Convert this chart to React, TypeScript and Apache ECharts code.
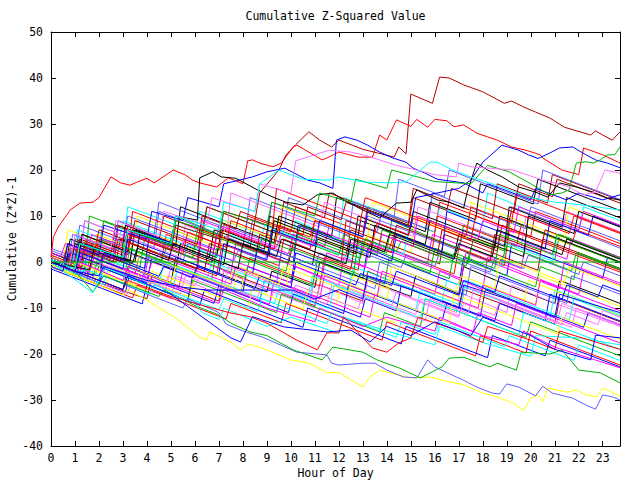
import React, { useEffect, useRef } from "react";
import * as echarts from "echarts";

const TITLE = "Cumulative Z-Squared Value";
const X_NAME = "Hour of Day";
const Y_NAME = "Cumulative (Z*Z)-1";
const X_MIN = 0;
const X_MAX = 23.72;
const Y_MIN = -40;
const Y_MAX = 50;

const PALETTE = ["#ff0000", "#00b000", "#0000ff", "#ff00ff", "#00ffff", "#b00000", "#ffff00", "#000000", "#6060ff", "#ff70ff"];

// background band of walks, flat [hour, value, hour, value, ...]
const bandWalks: number[][] = [
  [0,0, 1.5,-3, 1.7,4, 3,1.5, 3.2,8, 5,4.5, 5.2,9, 7,5.5, 8,3.5, 8.2,10, 10,6.5, 10.2,12, 12,8.5, 13,6.5, 13.2,12, 15,8.5, 16,6.5, 16.2,13, 18,9.5, 20,5.5, 20.2,11, 22,7.5, 23.72,4],
  [0,1, 1,-1, 1.2,5, 2,3.5, 2.2,9, 4,5.5, 5,3.5, 5.2,10, 7,6, 9,2, 9.2,7, 11,3.5, 12,1.5, 12.2,6, 14,2, 14.2,9, 16,5, 17,3, 17.2,8, 19,4.5, 21,0.5, 21.2,6, 23.72,1],
  [0,-1, 2,-5, 2.2,-1, 4,-4.5, 4.2,1, 6,-2.5, 8,-6.5, 8.2,-1, 10,-4.5, 10.2,2, 12,-1.5, 13,-3.5, 13.2,3, 15,-1, 17,-5, 17.2,1, 19,-3, 19.2,4, 21,0.5, 23,-3.5, 23.2,1, 23.72,0],
  [0,0.5, 1,-1.5, 1.2,2, 3,-1.5, 4,-3.5, 4.2,0, 6,-3.5, 6.2,3, 8,-0.5, 10,-4.5, 10.2,-1, 12,-5, 12.2,1, 14,-3, 16,-7, 16.2,-2, 18,-6, 18.2,1, 20,-3, 22,-7, 22.2,-2, 23.72,-5],
  [0,2, 1,0, 1.2,6, 3,2.5, 3.2,12, 5,8.5, 6,6.5, 6.2,11, 8,7.5, 10,3.5, 10.2,9, 12,5, 12.2,14, 14,10.5, 16,6.5, 16.2,12, 18,8, 18.2,15, 20,11, 22,7, 22.2,12, 23.72,9],
  [0,-0.5, 2,-4.5, 4,-8, 4.2,-3, 6,-6.5, 7,-8.5, 7.2,-2, 9,-5.5, 11,-9.5, 11.2,-5, 13,-8.5, 13.2,-2, 15,-6, 17,-10, 17.2,-6, 19,-9.5, 21,-13.5, 21.2,-8, 23.72,-13],
  [0,1.5, 0.5,0, 0.7,7, 2,4.5, 4,0.5, 4.2,6, 6,2.5, 6.2,7, 8,3.5, 9,1.5, 9.2,9, 11,5.5, 13,1.5, 13.2,6, 15,2, 15.2,10, 17,6.5, 19,2.5, 19.2,9, 21,5, 23.72,0],
  [0,0, 1,-2, 3,-6, 3.2,-1, 5,-4.5, 5.2,1, 7,-2.5, 9,-6.5, 9.2,-2, 11,-5.5, 11.2,0, 13,-3.5, 15,-7.5, 15.2,-3, 17,-7, 17.2,-1, 19,-5, 21,-9, 21.2,-4, 23.72,-9],
  [0,3, 1,1, 1.2,8, 3,4.5, 3.2,10, 5,6.5, 7,2.5, 7.2,8, 9,4.5, 9.2,13, 11,9.5, 13,5.5, 13.2,10, 15,6.5, 17,2.5, 17.2,7, 19,3.5, 19.2,12, 21,8.5, 23,4.5, 23.72,3],
  [0,-1, 1,-3, 1.2,0, 3,-4, 5,-8, 5.2,-3, 7,-7, 7.2,-2, 9,-6, 11,-10, 11.2,-5, 13,-9, 13.2,-4, 15,-8, 17,-12, 17.2,-7, 19,-11, 19.2,-5, 21,-9, 23.72,-14],
  [0,0, 0.6,-1.2, 0.8,3, 2.4,-0.2, 3.5,-2.4, 3.7,2, 4.6,0.2, 4.8,6, 6.9,1.8, 7.1,4, 9.5,-0.8, 9.7,5, 10.8,2.8, 11,9, 12.6,5.8, 14.1,2.8, 14.3,6, 15.9,2.8, 16.1,10, 18.3,5.6, 19.4,3.4, 19.6,8, 21.7,3.8, 21.9,7, 23.72,3.4],
  [0,1, 1.4,-1.8, 1.6,10, 3.3,6.6, 4.9,3.4, 5.1,7, 6.3,4.6, 6.5,12, 8.4,8.2, 10.2,4.6, 10.4,8, 12.5,3.8, 13.6,1.6, 13.8,7, 15.2,4.2, 17.4,-0.2, 17.6,5, 18.9,2.4, 19.1,9, 21.3,4.6, 23.72,-0.2],
  [0,-0.5, 1.8,-4.1, 3.1,-6.7, 3.3,-2, 5.6,-6.6, 6.8,-9, 7,-5, 8.7,-8.4, 8.9,-4, 10.6,-7.4, 12.9,-12, 13.1,-8, 14.4,-10.6, 14.6,-5, 16.3,-8.4, 18.5,-12.8, 18.7,-9, 20.6,-12.8, 20.8,-7, 22.4,-10.2, 23.72,-12.8],
  [0,2, 0.9,0.2, 1.1,4, 2.6,1, 2.8,7, 4.7,3.2, 6.1,0.4, 6.3,9, 7.8,6, 9.9,1.8, 10.1,6, 11.4,3.4, 11.6,8, 13.8,3.6, 15.7,-0.2, 15.9,6, 17.2,3.4, 19.6,-1.4, 19.8,4, 21.5,0.6, 21.7,5, 23.72,1],
  [0,0, 1.3,-2.6, 1.5,2, 2.9,-0.8, 3.1,3, 5.4,-1.6, 6.5,-3.8, 6.7,0, 8.8,-4.2, 10.7,-8, 10.9,-3, 12.4,-6, 12.6,-1, 14.9,-5.6, 16.3,-8.4, 16.5,-4, 18.6,-8.2, 20.8,-12.6, 21,-6, 22.5,-9, 23.72,-11.4],
  [0,1, 0.8,-0.6, 1,5, 2.5,2, 2.7,8, 4.4,4.6, 6.7,0, 6.9,6, 8.3,3.2, 8.5,9, 10.6,4.8, 12.3,1.4, 12.5,7, 14.6,2.8, 16.2,-0.4, 16.4,6, 18.7,1.4, 20.3,-1.8, 20.5,5, 22.6,0.8, 23.72,-1.4],
  [0,-1, 2.3,-5.6, 2.5,-1, 4.1,-4.2, 5.8,-7.6, 6,-3, 7.6,-6.2, 7.8,-1, 9.7,-4.8, 11.9,-9.2, 12.1,-5, 13.6,-8, 13.8,-2, 15.4,-5.2, 17.8,-10, 18,-6, 19.7,-9.4, 19.9,-4, 21.8,-7.8, 23.72,-11.6],
  [0,0.5, 1.1,-1.7, 1.3,6, 3.4,1.8, 5.2,-1.8, 5.4,4, 6.9,1, 7.1,7, 8.8,3.6, 10.9,-0.6, 11.1,5, 12.7,1.8, 12.9,9, 14.6,5.6, 16.8,1.2, 17,6, 18.5,3, 18.7,10, 20.9,5.6, 23.72,0],
  [0,2.5, 1.2,0.1, 1.4,9, 2.8,6.2, 4.3,3.2, 4.5,11, 6.4,7.2, 8.2,3.6, 8.4,9, 9.7,6.4, 9.9,14, 11.8,10.2, 13.6,6.6, 13.8,11, 15.7,7.2, 15.9,15, 17.6,11.6, 19.8,7.2, 20,12, 22.1,7.8, 23.72,4.6],
  [0,-0.5, 1.5,-3.5, 3.2,-6.9, 3.4,-3, 4.8,-5.8, 5,-1, 7.3,-5.6, 9.1,-9.2, 9.3,-6, 10.8,-9, 11,-3, 12.9,-6.8, 15.2,-11.4, 15.4,-8, 16.9,-11, 17.1,-5, 19.3,-9.4, 21.1,-13, 21.3,-9, 23.72,-13.8],
  [0,0, 1.1,-2.2, 1.3,1, 3.2,-2.8, 3.4,4, 5.3,0.2, 6.9,-3, 7.1,3, 9.4,-1.6, 11.2,-5.2, 11.4,1, 12.8,-1.8, 13,5, 15.3,0.4, 16.8,-2.6, 17,3, 18.9,-0.8, 19.1,7, 21.4,2.4, 23.72,-2.2],
  [0,1, 1.8,-2.6, 2,2, 3.7,-1.4, 3.9,5, 5.6,1.6, 8.1,-3.4, 8.3,1, 9.8,-2, 10,3, 12.3,-1.6, 13.9,-4.8, 14.1,1, 15.8,-2.4, 16,3, 18.3,-1.6, 20.2,-5.4, 20.4,-1, 21.8,-3.8, 22,2, 23.72,-1.4],
  [0,-1.5, 2.1,-5.7, 3.8,-9.1, 4,-5, 5.7,-8.4, 5.9,-3, 8.2,-7.6, 9.9,-11, 10.1,-7, 12.2,-11.2, 12.4,-5, 14.1,-8.4, 16.3,-12.8, 16.5,-9, 17.9,-11.8, 18.1,-6, 20.4,-10.6, 22.2,-14.2, 22.4,-11, 23.72,-13.6],
  [0,0, 1.4,-2.8, 1.6,3, 3.1,0, 3.3,6, 5.4,1.8, 7.5,-2.4, 7.7,4, 9,1.4, 11.3,-3.2, 11.5,2, 13.1,-1.2, 13.3,4, 15.4,-0.2, 17.1,-3.6, 17.3,2, 19.4,-2.2, 21.2,-5.8, 21.4,0, 23.72,-4.6],
  [0,1.5, 0.9,-0.3, 1.1,7, 2.8,3.6, 3,9, 4.9,5.2, 7.2,0.6, 7.4,6, 8.7,3.4, 8.9,8, 11.1,3.6, 12.8,0.2, 13,5, 14.7,1.6, 14.9,7, 17.2,2.4, 18.8,-0.8, 19,4, 20.9,0.2, 21.1,6, 23.72,0.8],
  [0,0.5, 1,-1.5, 1.2,5, 2.6,2.2, 2.8,8, 4.5,4.6, 4.7,10, 6.3,6.8, 6.5,12, 8.2,8.6, 9.5,6, 9.7,13, 11.4,9.6, 11.6,15, 13.3,11.6, 14.9,8.4, 15.1,16, 16.8,12.6, 18.4,9.4, 18.6,17, 20.7,12.8, 20.9,19, 23.72,13.4],
  [0,1, 1.7,-2.4, 1.9,6, 3.4,3, 3.6,10, 5.8,5.6, 7.1,3, 7.3,9, 9.4,4.8, 9.6,12, 11.9,7.4, 13.2,4.8, 13.4,13, 15.5,8.8, 17.3,5.2, 17.5,13, 19.2,9.6, 21.4,5.2, 21.6,12, 23.72,7.8],
  [0,-0.5, 1.2,-2.9, 1.4,4, 3.3,0.2, 3.5,7, 5.2,3.6, 5.4,12, 7.6,7.6, 9.3,4.2, 9.5,10, 11.7,5.6, 11.9,14, 13.4,11, 15.6,6.6, 15.8,13, 17.7,9.2, 17.9,17, 20.1,12.6, 20.3,18, 22.4,13.8, 23.72,11.2],
  [0,0, 0.7,-1.4, 0.9,6, 2.6,2.6, 2.8,9, 4.3,6, 4.5,13, 6.6,8.8, 8.1,5.8, 8.3,14, 10.2,10.2, 12.4,5.8, 12.6,13, 14.3,9.6, 14.5,18, 16.4,14.2, 16.6,20, 18.9,15.4, 20.3,12.6, 20.5,20, 22.6,15.8, 23.72,13.6],
  [0,2, 1.2,-0.4, 1.4,9, 3.1,5.6, 5.4,1, 5.6,8, 7.3,4.6, 7.5,15, 9.1,11.8, 11.2,7.6, 11.4,13, 13.7,8.4, 15.1,5.6, 15.3,12, 17.4,7.8, 19.6,3.4, 19.8,10, 21.3,7, 21.5,11, 23.72,6.6],
  [0,-1, 1.6,-4.2, 3.4,-7.8, 3.6,-5, 5.5,-8.8, 7.3,-12.4, 7.5,-9, 9.6,-13.2, 9.8,-9, 11.7,-12.8, 13.8,-17, 14,-13, 15.9,-16.8, 17.7,-20.4, 17.9,-16, 19.8,-19.8, 20,-15, 22.1,-19.2, 23.72,-22.4],
  [0,0, 1.3,-2.6, 1.5,0, 3.6,-4.2, 5.7,-8.4, 5.9,-4, 7.8,-7.8, 9.4,-11, 9.6,-7, 11.5,-10.8, 13.7,-15.2, 13.9,-11, 15.4,-14, 15.6,-8, 17.9,-12.6, 19.8,-16.4, 20,-13, 22.2,-17.4, 23.72,-20.4],
  [0,0.5, 1.8,-3.1, 2,-1, 4.1,-5.2, 6.2,-9.4, 6.4,-6, 8.3,-9.8, 10.5,-14.2, 10.7,-10, 12.4,-13.4, 14.6,-17.8, 14.8,-14, 16.5,-17.4, 18.2,-20.8, 18.4,-16, 20.6,-20.4, 20.8,-17, 23.72,-22.8],
  [0,0, 1.1,-2.2, 1.3,2, 3.4,-2.2, 5.3,-6, 5.5,-2, 7.7,-6.4, 9.1,-9.2, 9.3,-4, 11.6,-8.6, 13.3,-12, 13.5,-7, 15.4,-10.8, 17.6,-15.2, 17.8,-11, 19.2,-13.8, 19.4,-9, 21.7,-13.6, 23.72,-17.6],
  [0,-0.5, 2.2,-4.9, 2.4,-1, 4.5,-5.2, 4.7,0, 6.8,-4.2, 8.7,-8, 8.9,-4, 10.8,-7.8, 11,-2, 13.1,-6.2, 15.2,-10.4, 15.4,-6, 17.1,-9.4, 17.3,-4, 19.5,-8.4, 21.6,-12.6, 21.8,-8, 23.72,-11.8],
  [0,1, 1,-1, 1.2,3, 2.7,0, 2.9,5, 4.8,1.2, 6.4,-2, 6.6,4, 8.5,0.2, 8.7,6, 10.3,2.8, 12.5,-1.6, 12.7,5, 14.2,2, 14.4,8, 16.6,3.6, 18.3,0.2, 18.5,6, 20.4,2.2, 20.6,7, 23.72,0.8],
  [0,0, 1.9,-3.8, 2.1,1, 3.5,-1.8, 3.7,2, 5.9,-2.4, 7.4,-5.4, 7.6,-1, 9.8,-5.4, 10,0, 12.2,-4.4, 14,-8, 14.2,-3, 16.1,-6.8, 17.9,-10.4, 18.1,-5, 20.2,-9.2, 20.4,-3, 22.5,-7.2, 23.72,-9.6],
  [0,0.5, 0.8,-1.1, 1,4, 2.9,0.2, 3.1,8, 5.2,3.8, 6.6,1, 6.8,7, 8.9,2.8, 9.1,10, 10.7,6.8, 12.6,3, 12.8,10, 14.9,5.8, 15.1,11, 17.5,6.2, 18.9,3.4, 19.1,12, 21.3,7.6, 21.5,14, 23.72,9.6],
  [0,-1, 1.5,-4, 1.7,0, 3.8,-4.2, 4,1, 5.6,-2.2, 7.9,-6.8, 8.1,-2, 9.4,-4.6, 9.6,2, 11.8,-2.4, 13.5,-5.8, 13.7,0, 15.8,-4.2, 17.3,-7.2, 17.5,-1, 19.7,-5.4, 21.5,-9, 21.7,-3, 23.72,-7],
  [0,0, 1.2,-2.4, 1.4,1, 3.3,-2.8, 5.4,-7, 5.6,-3, 7.2,-6.2, 7.4,-1, 9.6,-5.4, 11.5,-9.2, 11.7,-5, 13.8,-9.2, 15.6,-12.8, 15.8,-8, 17.4,-11.2, 17.6,-6, 19.9,-10.6, 21.7,-14.2, 21.9,-10, 23.72,-13.6],
  [0,1.5, 1.3,-1.1, 1.5,5, 3.2,1.6, 3.4,11, 5.1,7.6, 7.3,3.2, 7.5,9, 9.2,5.6, 9.4,16, 11.3,12.2, 12.9,9, 13.1,14, 15.2,9.8, 17.3,5.6, 17.5,12, 19.2,8.6, 19.4,15, 21.6,10.6, 23.72,6.4],
  [0,-0.5, 1,-2.5, 1.2,2, 3.1,-1.8, 3.3,3, 5.4,-1.2, 6.7,-3.8, 6.9,3, 8.8,-0.8, 10.9,-5, 11.1,0, 12.6,-3, 12.8,4, 14.9,-0.2, 16.6,-3.6, 16.8,2, 18.5,-1.4, 18.7,6, 20.9,1.6, 21.1,6, 23.72,0.8],
  [0,0, 2,-4, 2.2,2, 3.9,-1.4, 4.1,6, 6.3,1.6, 8.4,-2.6, 8.6,3, 10.1,0, 10.3,8, 12.5,3.6, 14.2,0.2, 14.4,6, 16.3,2.2, 16.5,11, 18.7,6.6, 20.6,2.8, 20.8,9, 22.4,5.8, 22.6,10, 23.72,7.8],
  [0,1, 1.6,-2.2, 1.8,1, 3.9,-3.2, 4.1,2, 6.2,-2.2, 7.5,-4.8, 7.7,-1, 9.9,-5.4, 11.2,-8, 11.4,-3, 13.6,-7.4, 13.8,-2, 15.9,-6.2, 17.8,-10, 18,-5, 20.2,-9.4, 20.4,-4, 22.7,-8.6, 23.72,-10.6],
  [0,0.5, 1.4,-2.3, 1.6,2, 3.7,-2.2, 5.1,-5, 5.3,-1, 7.4,-5.2, 9.3,-9, 9.5,-6, 11.6,-10.2, 11.8,-5, 13.3,-8, 15.4,-12.2, 15.6,-8, 17.2,-11.2, 19.5,-15.8, 19.7,-11, 21.8,-15.2, 23.72,-19],
  [0,0, 0.9,-1.8, 1.1,3, 2.6,0, 2.8,5, 4.5,1.6, 6.1,-1.6, 6.3,7, 8.4,2.8, 9.9,-0.2, 10.1,4, 12.1,0, 12.3,9, 14.4,4.8, 16.1,1.4, 16.3,7, 18.6,2.4, 18.8,8, 20.8,4, 23.72,-1.8],
  [0,-1, 1.7,-4.4, 1.9,-2, 4,-6.2, 4.2,-2, 6.1,-5.8, 8.2,-10, 8.4,-6, 10.5,-10.2, 10.7,-6, 12.6,-9.8, 14.3,-13.2, 14.5,-9, 16.6,-13.2, 16.8,-7, 18.9,-11.2, 21.1,-15.6, 21.3,-12, 23.72,-16.8],
  [0,2, 1.1,-0.2, 1.3,6, 3.2,2.2, 3.4,7, 5.5,2.8, 7.2,-0.6, 7.4,5, 9.1,1.6, 9.3,9, 11.4,4.8, 13.3,1, 13.5,8, 15.6,3.8, 15.8,9, 17.9,4.8, 19.7,1.2, 19.9,10, 21.8,6.2, 22,11, 23.72,7.6],
  [0,0, 0.5,-1, 0.7,1.5, 1.4,0, 1.6,2.5, 2.5,0.7, 2.7,3, 3.6,1.2, 4.3,-0.2, 4.5,2, 5.5,0, 5.7,4, 6.8,1.8, 7.6,0.2, 7.8,2.5, 8.9,0.3, 9.1,3, 10.2,0.8, 11,-0.8, 11.2,2, 12.3,-0.2, 12.5,3, 13.7,0.6, 14.6,-1.2, 14.8,1.5, 16,-0.9, 16.2,2, 17.4,-0.4, 18.3,-2.2, 18.5,1, 19.7,-1.4, 19.9,1.5, 21.1,-0.9, 22,-2.7, 22.2,0, 23.72,-3],
  [0,-0.5, 0.9,-2.3, 1.1,0, 2.2,-2.2, 2.4,-0.5, 3.6,-2.9, 4.7,-5.1, 4.9,-3, 6,-5.2, 6.2,-3, 7.5,-5.6, 8.6,-7.8, 8.8,-5, 10,-7.4, 10.2,-5, 11.6,-7.8, 12.8,-10.2, 13,-7, 14.2,-9.4, 14.4,-6.5, 15.7,-9.1, 17,-11.7, 17.2,-9, 18.5,-11.6, 18.7,-8.5, 20,-11.1, 21.3,-13.7, 21.5,-11, 22.8,-13.6, 23,-10.5, 23.72,-12],
  [0,1, 0.7,-0.4, 0.9,3, 1.8,1.2, 2,5, 3.2,2.6, 3.4,6, 4.6,3.6, 5.5,1.8, 5.7,6.5, 7,3.9, 7.2,7, 8.4,4.6, 9.3,2.8, 9.5,8, 10.8,5.4, 11,9, 12.3,6.4, 13.4,4.2, 13.6,8.5, 14.9,5.9, 15.1,9.5, 16.4,6.9, 17.5,4.7, 17.7,10, 19,7.4, 19.2,11, 20.5,8.4, 21.6,6.2, 21.8,10, 23,7.6, 23.72,6.2],
  [0,0, 1,-2, 1.2,4, 2,2.4, 2.2,5, 3.3,2.8, 4.6,0.2, 4.8,3, 5.9,0.8, 6.1,7, 7.5,4.2, 8.6,2, 8.8,5, 10.1,2.4, 10.3,6, 11.7,3.2, 12.9,0.8, 13.1,5, 14.4,2.4, 14.6,4.5, 16,1.7, 17.3,-0.9, 17.5,3, 18.8,0.4, 19,3.5, 20.4,0.7, 21.7,-1.9, 21.9,2, 23.72,-1.6],
  [0,0.5, 0.6,-0.7, 0.8,2, 2,-0.4, 2.2,1.5, 3.4,-0.9, 4.5,-3.1, 4.7,-1, 5.9,-3.4, 6.1,-1, 7.3,-3.4, 8.5,-5.8, 8.7,-3, 10,-5.6, 10.2,0, 11.5,-2.6, 12.7,-5, 12.9,-2.5, 14.2,-5.1, 14.4,-2, 15.7,-4.6, 17,-7.2, 17.2,-4, 18.5,-6.6, 18.7,-3, 20,-5.6, 21.3,-8.2, 21.5,-5, 22.8,-7.6, 23,-5, 23.72,-6.4],
  [0,2, 0.4,1.2, 0.6,4, 1.5,2.2, 1.7,6, 2.9,3.6, 3.1,7, 4.3,4.6, 5.4,2.4, 5.6,5, 6.8,2.6, 7,8, 8.3,5.4, 9.4,3.2, 9.6,6, 10.9,3.4, 11.1,7, 12.4,4.4, 13.6,2, 13.8,6, 15.1,3.4, 15.3,10, 16.6,7.4, 17.8,5, 18,9, 19.3,6.4, 19.5,12, 20.8,9.4, 22,7, 22.2,11, 23.72,8],
  [0,-0.5, 1.2,-2.9, 1.4,-1.5, 2.8,-4.3, 4.1,-6.9, 4.3,-5, 5.7,-7.8, 7,-10.4, 7.2,-8, 8.6,-10.8, 8.8,-8, 10.2,-10.8, 11.5,-13.4, 11.7,-11, 13.1,-13.8, 14.4,-16.4, 14.6,-13, 16,-15.8, 16.2,-13, 17.6,-15.8, 18.9,-18.4, 19.1,-16, 20.5,-18.8, 21.8,-21.4, 22,-18, 23.72,-21.4],
  [0,1, 0.5,0, 0.7,4, 1.8,1.8, 2,7, 3.3,4.4, 3.5,9, 4.9,6.2, 6.1,3.8, 6.3,10, 7.7,7.2, 7.9,11, 9.3,8.2, 10.5,5.8, 10.7,12, 12.1,9.2, 12.3,13, 13.7,10.2, 14.9,7.8, 15.1,14, 16.5,11.2, 16.7,16, 18.1,13.2, 19.3,10.8, 19.5,17, 20.9,14.2, 21.1,18, 22.5,15.2, 23.72,12.8],
  [0,-1, 0.8,-2.6, 1,0, 2.3,-2.6, 3.5,-5, 3.7,-2, 5,-4.6, 5.2,-1, 6.6,-3.8, 7.9,-6.4, 8.1,-2, 9.5,-4.8, 9.7,-1, 11.1,-3.8, 12.4,-6.4, 12.6,-3, 14,-5.8, 14.2,-1, 15.6,-3.8, 16.9,-6.4, 17.1,-3, 18.5,-5.8, 18.7,1, 20.1,-1.8, 21.4,-4.4, 21.6,-1, 23.72,-5.2],
  [0,0, 0.6,-1.2, 0.8,5, 2.1,2.4, 3.4,-0.2, 3.6,3, 4.9,0.4, 5.1,4, 6.5,1.2, 7.8,-1.4, 8,4, 9.4,1.2, 9.6,5, 11,2.2, 12.3,-0.4, 12.5,5, 13.9,2.2, 14.1,6, 15.5,3.2, 16.8,0.6, 17,4, 18.4,1.2, 18.6,7, 20,4.2, 21.3,1.6, 21.5,5, 23.72,0.6],
];

// prominent outlying walks
const topWalks: number[][] = [
  [0,0, 1,-2, 1.2,3, 3,0, 3.2,6, 5,2.5, 5.2,8, 7,5, 7.2,11, 8.5,9, 8.7,15, 9.5,20, 9.8,23.3, 10.2,25.5, 10.75,28.3, 11.2,26.5, 11.7,25, 12,26.5, 13,24.5, 14.3,22.8, 14.5,25, 14.8,23.5, 15,36.5, 15.9,34.5, 16.2,40.2, 16.6,40, 17.2,38.5, 18,37, 18.9,34.5, 19.2,35, 19.7,33.7, 20.2,32.6, 20.8,31.3, 21.4,29.3, 22.5,27.6, 22.7,28.5, 23,27.6, 23.4,26.5, 23.72,28.3],
  [0,1, 0.1,5.4, 0.3,7.6, 0.8,11.3, 1.2,12.8, 1.75,13, 2,14, 2.3,16.7, 2.5,18.5, 2.9,17.2, 3.3,16.7, 3.6,17.4, 4,18.2, 4.3,17.2, 5.1,20, 5.6,18.9, 5.9,17.8, 6.2,17.2, 6.9,16.3, 7.4,18.3, 8,17, 8.2,22, 8.4,22.2, 8.7,21.5, 9.25,20.7, 9.6,21.5, 10.1,25, 10.25,25.4, 11.3,22.2, 11.5,22.6, 12,23.9, 12.8,22.8, 13.4,22.8, 13.7,27.6, 14,26.5, 14.4,30.9, 15,29.5, 15.25,31, 15.7,29.3, 16,31, 16.5,30.7, 16.8,29.4, 17.2,29.8, 17.75,28, 18.2,27.2, 18.6,26.5, 19.2,25, 19.8,24.3, 20.4,23.3, 20.5,22.6, 21.3,20, 22,19, 22.2,24.8, 23,23.3, 23.72,21.5],
  [0,-1, 0.5,-2, 0.7,4, 2,1.5, 2.2,8, 4,5, 4.2,11, 5.5,9, 5.7,14, 7,12, 7.2,17, 8.4,18.5, 9,19.6, 9.75,20.4, 10.7,17.8, 11.2,17.2, 11.75,16, 11.9,26.5, 12.25,27.2, 12.75,26.5, 13.2,25.4, 13.7,23.9, 14.25,22.6, 14.8,21.7, 15.1,20.4, 15.6,19.3, 16.1,18, 17.2,17.2, 18,15, 18.2,17, 19,15.5, 20,13.5, 20.2,16, 21.5,13.5, 22,15, 23,13.5, 23.72,14.6],
  [0,0, 1,-2, 1.2,2, 3,-1.5, 3.2,5, 5,1.5, 7,-2.5, 7.2,4, 9,0.5, 9.2,7, 11,3.5, 11.2,9, 13,5.5, 13.2,11, 15,7.5, 15.2,14, 17,16, 17.5,17.8, 18,21.7, 18.8,25.4, 19.5,24.3, 19.9,23.3, 20.3,22.5, 20.8,23.7, 21.2,24.8, 21.75,25, 22.3,23.3, 22.7,22.2, 23.2,21.5, 23.72,20.5],
  [0,0, 1.6,-1.7, 1.8,3, 3.5,0, 3.7,6, 5,4, 5.2,10, 6.1,9.1, 6.2,18.3, 6.75,19.6, 7.1,18.5, 7.7,18.2, 8.6,15.7, 9.25,14.1, 9.8,13, 10.5,12.4, 11.1,14.6, 11.75,15, 12.2,13.5, 13,11.3, 13.7,9.6, 14.4,12.8, 15,13, 15.25,15.7, 15.5,15, 16.1,13.5, 16.6,13, 17.2,11.7, 17.35,15.2, 17.75,21.5, 18.2,20, 18.8,18.5, 19.5,16.3, 20.2,15.2, 20.7,14.1, 21.2,17.2, 21.9,16.3, 22.6,15.2, 23.2,13.9, 23.72,13.5],
  [0,1, 1,-1, 1.2,4, 3,1, 3.2,7, 5,3.5, 5.2,9, 7,6, 7.2,11, 9,8, 9.2,13, 11,10, 11.2,15, 12.5,13, 12.7,18, 14,16, 14.2,20, 16,17.5, 17.5,17, 18.2,21, 19.1,19.6, 20,17, 20.8,14.6, 21.3,15, 21.6,15.7, 21.9,21.5, 22.3,21.8, 22.6,21.5, 22.9,22.2, 23.2,23.3, 23.5,23.3, 23.72,25],
  [0,1, 0.8,-0.5, 1,6, 2.5,3, 2.7,9, 4.5,5.5, 4.7,11, 6.5,8, 6.7,14, 8.5,11, 8.7,17, 10,15, 10.2,22, 11.6,24.3, 12.5,23.9, 13,23.3, 13.7,22.2, 14.4,21, 15.25,20, 16,19, 16.9,18.5, 17,21.5, 17.5,20.7, 19.25,20, 20.5,17.8, 21.5,16.5, 22.2,14.6, 22.7,15.2, 23.1,20, 23.72,19.3],
  [0,0.5, 1,-1.5, 1.2,4, 3,1, 3.2,7, 5,4, 5.2,10, 7,7, 7.2,13, 8.5,11, 8.7,17, 9.5,20, 10.5,18, 11.6,17.8, 12,18.5, 13,17.4, 14.1,17.2, 14.8,17.4, 15.8,21.7, 16.1,21.7, 16.75,20, 17.5,18.5, 18.8,16.3, 19.9,14.1, 21,13, 22,12.5, 23,11.8, 23.72,11.3],
];
const TOP_COLORS = ["#b00000", "#ff0000", "#0000ff", "#0000ff", "#000000", "#00b000", "#ff70ff", "#00ffff"];

const lowWalks: number[][] = [
  [0,-0.5, 1,-2.8, 2,-5, 3,-7.2, 3.2,-6, 4,-8.3, 5.1,-11.9, 5.7,-14.3, 6.2,-16.3, 6.5,-17, 6.6,-15.2, 7.5,-17.4, 7.9,-19.1, 8.2,-17.8, 8.8,-18.7, 10,-21.3, 10.8,-22, 11.5,-24.1, 12,-24, 13,-27.2, 13.3,-25, 13.7,-23.5, 14.5,-24.6, 15.1,-25.2, 15.8,-25, 16.3,-25.7, 17.2,-26.7, 18,-28.5, 18.6,-29.3, 19.25,-30.7, 19.7,-32.2, 20,-29.6, 20.3,-28.9, 20.5,-30.4, 20.7,-27.4, 21.5,-28.3, 21.9,-27.8, 22.3,-28.9, 22.75,-29.3, 23,-27.4, 23.72,-29.1],
  [0,0, 1,-2.3, 2,-4.5, 2.2,-3, 4,-7, 5.5,-10, 5.7,-8, 7,-11, 7.3,-13.5, 8,-15, 8.8,-16.3, 10.25,-19.6, 11.5,-20.2, 11.7,-22, 12,-22.4, 13,-22, 13.5,-22, 14,-23.5, 14.7,-25, 15.25,-25.2, 15.7,-21.3, 16,-22.8, 16.9,-25, 17.2,-25.7, 17.75,-27.2, 18.4,-28.5, 18.7,-28.7, 19,-26.5, 19.5,-27.2, 20.2,-29.1, 20.5,-27, 20.9,-28.5, 21.75,-29.6, 22.3,-31.1, 22.7,-32, 23,-28.9, 23.4,-29.3, 23.72,-30],
  [0,0, 1,-2, 1.75,-6.5, 2.2,-3, 3.5,-5.5, 4.5,-7.5, 4.7,-6, 6,-9.5, 7,-11.5, 7.5,-13.3, 8.3,-15.2, 9,-16, 10.1,-19.1, 11.3,-21.3, 11.75,-18.5, 13,-19.6, 13.6,-21.3, 14.5,-23, 15.4,-25.2, 16.3,-22.8, 16.6,-20.9, 17.2,-20.7, 18.3,-22.8, 18.6,-22, 19.4,-23.5, 19.6,-19.6, 20.2,-19.8, 20.8,-20, 21.3,-19.1, 22,-23.5, 22.9,-24.1, 23.72,-26.3],
  [0,0, 1,-2, 1.2,0, 3,-4, 3.2,-1, 5,-5, 7,-9, 7.2,-6, 9,-10, 11,-13, 11.2,-10, 13,-14, 14,-12, 16,-15, 16.2,-12, 18,-16, 19.5,-18, 19.7,-15, 21,-18.5, 23.72,-23],
  [0,0, 1.75,-6.7, 2.2,-1, 4,-5, 6,-9, 6.3,-11, 7,-12.5, 7.2,-10, 9,-14, 10,-12, 12,-15.5, 12.2,-12, 14,-15, 16,-18, 16.2,-14, 18,-17.5, 19,-19, 20,-20.5, 20.2,-16, 22,-16.5, 23.72,-18],
  [0,0, 1.5,-3, 3,-6, 3.2,-4, 5,-7.5, 6,-9, 7.5,-11.1, 8.3,-11.9, 9,-13.3, 10.25,-17, 11.1,-19.1, 11.5,-15.4, 12,-15.4, 12.2,-11.9, 13,-16.5, 13.4,-18.7, 14,-19.6, 14.5,-17.6, 15,-16.5, 15.3,-12, 17,-15, 18,-17.5, 18.2,-14, 20,-17, 21,-19, 21.2,-15, 23.72,-19],
  [0,0, 1,-2, 3,-6, 3.2,-3, 5,-7, 7.5,-16.5, 7.9,-17.4, 8.4,-11.9, 9.7,-14.1, 11.5,-15.2, 12.5,-14.8, 13.3,-17.4, 14,-14, 15,-16, 16,-13, 17.5,-16, 18,-12, 20,-16, 21,-19, 22.5,-21.3, 22.7,-15.9, 23.72,-16.5],
  [0,0, 1,-2, 2,-3, 2.2,-1, 4,-4, 5.5,-5.5, 6.5,-6.1, 10.1,-6.1, 11,-8, 12,-6, 13,-8, 13.2,-3, 15,-6, 17,-10, 17.2,-5, 19,-8, 21,-12, 21.2,-7, 23.72,-11],
];
const LOW_COLORS = ["#ffff00", "#6060ff", "#00b000", "#ff00ff", "#00ffff", "#ff0000", "#0000ff", "#0000ff"];

const ZERO_LINE = [X_MIN, 0, X_MAX, 0];
const ZERO_COLOR = "#00b000";

const FONT = "DejaVu Sans Mono";

function toPairs(flat: number[]) {
  const out: number[][] = [];
  for (let i = 0; i < flat.length; i += 2) out.push([flat[i], flat[i + 1]]);
  return out;
}

function lineSeries(flat: number[], color: string) {
  return {
    type: "line",
    data: toPairs(flat),
    showSymbol: false,
    symbol: "none",
    silent: true,
    xAxisIndex: 0,
    yAxisIndex: 0,
    lineStyle: { color, width: 1 },
    emphasis: { disabled: true },
  };
}

export default function App() {
  const ref = useRef<HTMLDivElement>(null);
  useEffect(() => {
    if (!ref.current) return;
    const chart = echarts.init(ref.current, null, { renderer: "svg" });
    const series: any[] = [];
    bandWalks.forEach((w, i) => series.push(lineSeries(w, PALETTE[i % PALETTE.length])));
    lowWalks.forEach((w, i) => series.push(lineSeries(w, LOW_COLORS[i])));
    topWalks.forEach((w, i) => series.push(lineSeries(w, TOP_COLORS[i])));
    series.push(lineSeries(ZERO_LINE, ZERO_COLOR));

    const axisCommon = {
      axisLine: { show: true, onZero: false, lineStyle: { color: "#000", width: 1 } },
      axisTick: { show: true, inside: true, length: 5, lineStyle: { color: "#000", width: 1 } },
      splitLine: { show: false },
    };
    const labelStyle = { color: "#000", fontFamily: FONT, fontSize: 11.5 };
    const xFmt = (v: number) => (Math.abs(v - Math.round(v)) < 1e-6 ? String(Math.round(v)) : "");

    chart.setOption({
      animation: false,
      backgroundColor: "#fff",
      grid: { left: 51, right: 20, top: 32, bottom: 34, containLabel: false },
      xAxis: [
        { type: "value", min: X_MIN, max: X_MAX, interval: 1, position: "bottom", ...axisCommon,
          axisLabel: { ...labelStyle, margin: 6, formatter: xFmt, showMaxLabel: false } },
        { type: "value", min: X_MIN, max: X_MAX, interval: 1, position: "top", ...axisCommon,
          axisLabel: { show: false } },
      ],
      yAxis: [
        { type: "value", min: Y_MIN, max: Y_MAX, interval: 10, position: "left", ...axisCommon,
          axisLabel: { ...labelStyle, margin: 8 } },
        { type: "value", min: Y_MIN, max: Y_MAX, interval: 10, position: "right", ...axisCommon,
          axisLabel: { show: false } },
      ],
      graphic: [
        { type: "text", x: 335.5, y: 16, silent: true,
          style: { text: TITLE, fill: "#000", font: `11.5px "${FONT}"`, textAlign: "center", textVerticalAlign: "middle" } },
        { type: "text", x: 335.5, y: 473, silent: true,
          style: { text: X_NAME, fill: "#000", font: `11.5px "${FONT}"`, textAlign: "center", textVerticalAlign: "middle" } },
        { type: "text", x: 12, y: 239, rotation: Math.PI / 2, silent: true,
          style: { text: Y_NAME, fill: "#000", font: `11.5px "${FONT}"`, textAlign: "center", textVerticalAlign: "middle" } },
      ],
      series,
    });
    return () => chart.dispose();
  }, []);
  return (
    <div
      ref={ref}
      style={{ position: "fixed", left: 0, top: 0, width: 640, height: 480, background: "#fff" }}
    />
  );
}
